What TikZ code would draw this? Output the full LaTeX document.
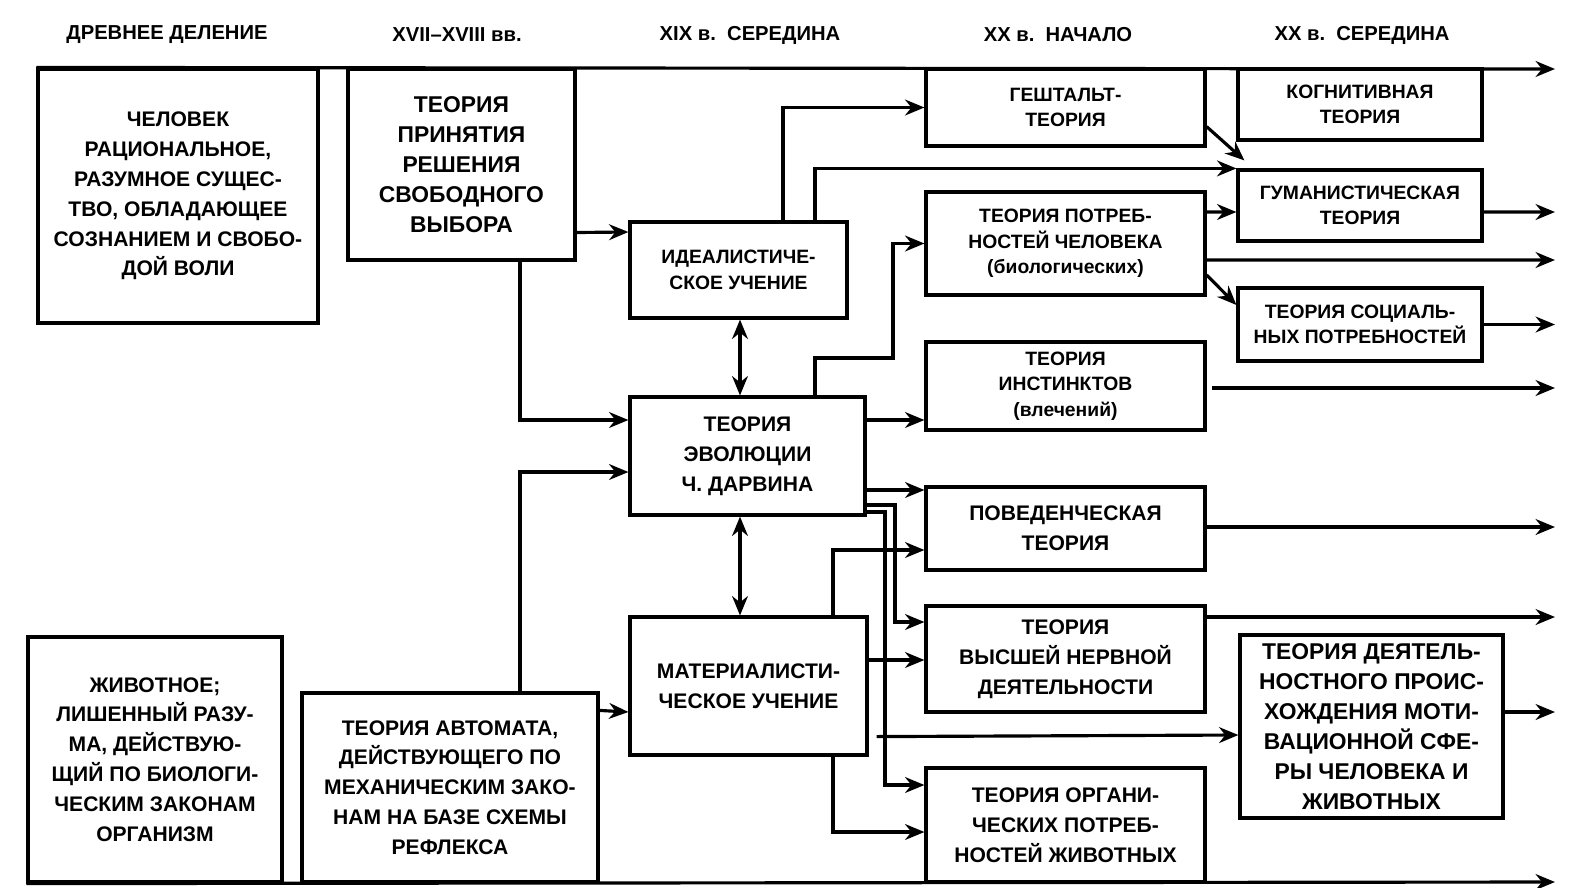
\documentclass[tikz,border=0pt]{standalone}
\usepackage{fontspec}
\setmainfont{Liberation Sans}
\usetikzlibrary{arrows.meta,calc}
\usetikzlibrary{positioning}

\begin{document}
\begin{tikzpicture} [
    x=0.02cm, y=-0.02cm,
    box/.style={rectangle, draw=black, line width=1.8pt, align=center, inner sep=2pt,
                font=\bfseries\fontsize{11}{14.5}\selectfont},
    big/.style={box, font=\bfseries\fontsize{13}{17}\selectfont},
    wide/.style={box, font=\bfseries\fontsize{12}{17}\selectfont},
    head/.style={font=\bfseries\fontsize{11.5}{12}\selectfont},
    line/.style={line width=1.8pt},
    >={Stealth[length=11pt,width=9pt]}
    ]
    \useasboundingbox (0,0) rectangle (1570,887);
    %Headers
    \node[head] (h1) at (167,35) {ДРЕВНЕЕ ДЕЛЕНИЕ};
    \node[head] (h2) at (457,35) {XVII--XVIII вв.};
    \node[head] (h3) at (750,35) {XIX в.\ \ СЕРЕДИНА};
    \node[head] (h4) at (1058,35) {XX в.\ \ НАЧАЛО};
    \node[head] (h5) at (1362,35) {XX в.\ \ СЕРЕДИНА};

    %Nodes
    \node[wide, minimum width=280*0.02cm, minimum height=254*0.02cm] (chel) at (178,196)
        {ЧЕЛОВЕК\\РАЦИОНАЛЬНОЕ,\\РАЗУМНОЕ СУЩЕС-\\ТВО, ОБЛАДАЮЩЕЕ\\СОЗНАНИЕМ И СВОБО-\\ДОЙ ВОЛИ};
    \node[big, minimum width=227*0.02cm, minimum height=191*0.02cm] (prin) at (461.5,164.5)
        {ТЕОРИЯ\\ПРИНЯТИЯ\\РЕШЕНИЯ\\СВОБОДНОГО\\ВЫБОРА};
    \node[box, minimum width=217*0.02cm, minimum height=96*0.02cm] (ideal) at (738.5,270)
        {ИДЕАЛИСТИЧЕ-\\СКОЕ УЧЕНИЕ};
    \node[box, minimum width=279*0.02cm, minimum height=77*0.02cm] (gest) at (1065.5,107.5)
        {ГЕШТАЛЬТ-\\ТЕОРИЯ};
    \node[box, minimum width=244*0.02cm, minimum height=71*0.02cm] (kogn) at (1360,104.5)
        {КОГНИТИВНАЯ\\ТЕОРИЯ};
    \node[box, minimum width=244*0.02cm, minimum height=71*0.02cm] (gum) at (1360,205.5)
        {ГУМАНИСТИЧЕСКАЯ\\ТЕОРИЯ};
    \node[box, minimum width=279*0.02cm, minimum height=103*0.02cm] (potr) at (1065.5,243.5)
        {ТЕОРИЯ ПОТРЕБ-\\НОСТЕЙ ЧЕЛОВЕКА\\(биологических)};
    \node[box, minimum width=244*0.02cm, minimum height=73*0.02cm] (soc) at (1360,324.5)
        {ТЕОРИЯ СОЦИАЛЬ-\\НЫХ ПОТРЕБНОСТЕЙ};
    \node[box, minimum width=279*0.02cm, minimum height=88*0.02cm] (inst) at (1065.5,386)
        {ТЕОРИЯ\\ИНСТИНКТОВ\\(влечений)};
    \node[wide, minimum width=235*0.02cm, minimum height=118*0.02cm] (darw) at (747.5,456)
        {ТЕОРИЯ\\ЭВОЛЮЦИИ\\Ч. ДАРВИНА};
    \node[wide, minimum width=279*0.02cm, minimum height=83*0.02cm] (pov) at (1065.5,528.5)
        {ПОВЕДЕНЧЕСКАЯ\\ТЕОРИЯ};
    \node[wide, minimum width=279*0.02cm, minimum height=106*0.02cm] (vnd) at (1065.5,659)
        {ТЕОРИЯ\\ВЫСШЕЙ НЕРВНОЙ\\ДЕЯТЕЛЬНОСТИ};
    \node[big, minimum width=263*0.02cm, minimum height=183*0.02cm] (deyat) at (1371.5,726.5)
        {ТЕОРИЯ ДЕЯТЕЛЬ-\\НОСТНОГО ПРОИС-\\ХОЖДЕНИЯ МОТИ-\\ВАЦИОННОЙ СФЕ-\\РЫ ЧЕЛОВЕКА И\\ЖИВОТНЫХ};
    \node[wide, minimum width=279*0.02cm, minimum height=114*0.02cm] (org) at (1065.5,825)
        {ТЕОРИЯ ОРГАНИ-\\ЧЕСКИХ ПОТРЕБ-\\НОСТЕЙ ЖИВОТНЫХ};
    \node[wide, minimum width=237*0.02cm, minimum height=138*0.02cm] (mat) at (748.5,686)
        {МАТЕРИАЛИСТИ-\\ЧЕСКОЕ УЧЕНИЕ};
    \node[wide, minimum width=254*0.02cm, minimum height=245*0.02cm] (zhiv) at (155,759.5)
        {ЖИВОТНОЕ;\\ЛИШЕННЫЙ РАЗУ-\\МА, ДЕЙСТВУЮ-\\ЩИЙ ПО БИОЛОГИ-\\ЧЕСКИМ ЗАКОНАМ\\ОРГАНИЗМ};
    \node[wide, minimum width=296*0.02cm, minimum height=189*0.02cm] (avt) at (450,787.5)
        {ТЕОРИЯ АВТОМАТА,\\ДЕЙСТВУЮЩЕГО ПО\\МЕХАНИЧЕСКИМ ЗАКО-\\НАМ НА БАЗЕ СХЕМЫ\\РЕФЛЕКСА};

    \coordinate (topend) at (1555,69);
    \coordinate (botend) at (1555,882);

    %Lines
    \draw[line,->] (chel.north west) -- (topend);
    \draw[line,->] (zhiv.south west) -- (botend);
    \draw[line,->] ($(prin.east)+(0,68)$) -- ($(ideal.west)+(0,-38)$);
    \draw[line,->] ($(prin.south)+(58.5,0)$) |- ($(darw.west)+(0,-36)$);
    \draw[line,->] ($(avt.north)+(70,0)$) |- ($(darw.west)+(0,16)$);
    \draw[line,->] ($(avt.north east)+(0,19)$) -- ($(mat.west)+(0,26)$);
    \draw[line,->] ($(ideal.north)+(44.5,0)$) |- (gest.west);
    \draw[line,->] ($(ideal.north)+(76.5,0)$) |- (gum.north west);
    \draw[line,<->] (ideal.south -| 740,0) -- (darw.north -| 740,0);
    \draw[line,<->] (darw.south -| 740,0) -- (mat.north -| 740,0);
    \draw[line,->] ($(darw.north)+(67.5,0)$) |- (893,358) |- (potr.west);
    \draw[line,->] ($(darw.east)+(0,-36)$) -- ($(inst.west)+(0,34)$);
    \draw[line,->] ($(darw.east)+(0,34)$) -- ($(pov.west)+(0,-38.5)$);
    \draw[line,->] ($(darw.east)+(0,49)$) -| (895,622) -- ($(vnd.west)+(0,-37)$);
    \draw[line,->] ($(darw.east)+(0,56)$) -| (885,785) -- ($(org.west)+(0,-40)$);
    \draw[line,->] ($(mat.north)+(84.5,0)$) |- ($(pov.west)+(0,21.5)$);
    \draw[line,->] ($(mat.east)+(0,-26)$) -- ($(vnd.west)+(0,1)$);
    \draw[line,->] ($(mat.south)+(84.5,0)$) |- ($(org.west)+(0,7)$);
    \draw[line,->] ($(mat.south east)+(8,-20)$) -- ($(deyat.west)+(0,8.5)$);
    \draw[line,->] ($(gest.south east)+(0,-21)$) -- ($(gum.north west)+(8,-8)$);
    \draw[line,->] ($(potr.east)+(0,-31.5)$) -- ($(gum.west)+(0,6.5)$);
    \draw[line,->] ($(potr.east)+(0,16.5)$) -- (1555,260);
    \draw[line,->] ($(potr.east)+(0,31.5)$) -- ($(soc.west)+(0,-19.5)$);
    \draw[line,->] ($(gum.east)+(0,6.5)$) -- (1555,212);
    \draw[line,->] (soc.east) -- (1555,324.5);
    \draw[line,->] ($(inst.east)+(5,2)$) -- (1555,388);
    \draw[line,->] ($(pov.east)+(0,-1.5)$) -- (1555,527);
    \draw[line,->] ($(vnd.east)+(0,-42)$) -- (1555,617);
    \draw[line,->] ($(deyat.east)+(0,-14.5)$) -- (1555,712);
\end{tikzpicture}
\end{document}
